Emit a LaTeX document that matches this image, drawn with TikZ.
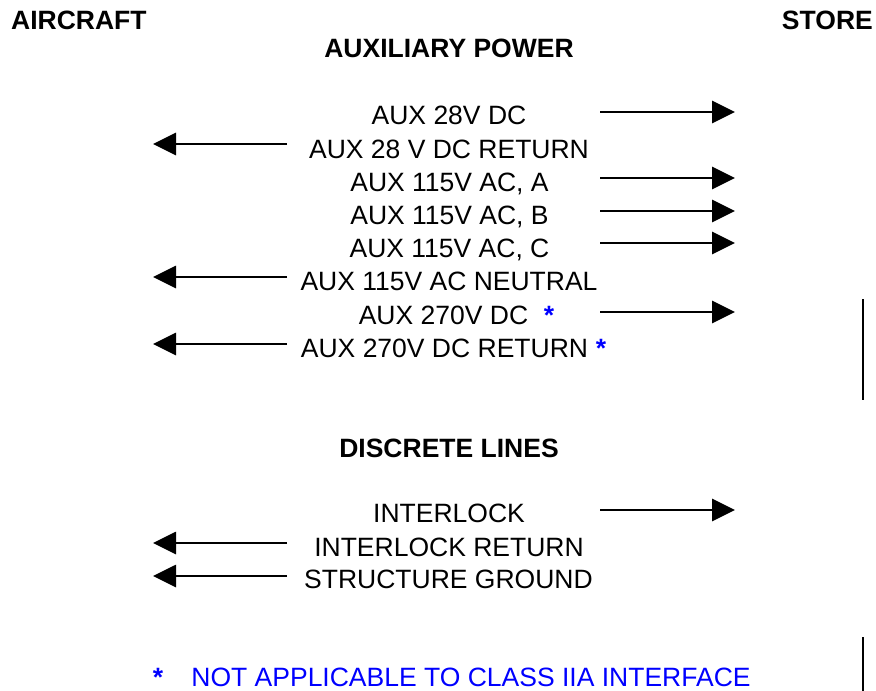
\documentclass[tikz,border=0pt]{standalone}
\usepackage{fontspec}
\setmainfont{Liberation Sans}
\usetikzlibrary{arrows.meta}
\definecolor{noteblue}{RGB}{0,0,255}

\begin{document}
\begin{tikzpicture}[x=1pt,y=-1pt,
  lbl/.style={anchor=base,inner sep=0pt,font=\fontsize{26.5}{30}\selectfont},
  hdr/.style={lbl,font=\fontsize{26.5}{30}\selectfont\bfseries},
  star/.style={lbl,text=noteblue,font=\fontsize{26.5}{30}\selectfont\bfseries},
  sig/.style={line width=2.8pt,-{Triangle[length=23pt,width=22pt]}}]
\useasboundingbox (0,0) rectangle (876,691);
% headers
\node[hdr,anchor=base west] (acft) at (11,29.5) {AIRCRAFT};
\node[hdr,anchor=base east] (store) at (873,29.5) {STORE};
\node[hdr] (auxhdr) at (449,57.5) {AUXILIARY POWER};
\node[hdr] (dischdr) at (449,457.5) {DISCRETE LINES};
% auxiliary power lines
\node[lbl] (aux28) at (449,124.5) {AUX 28V DC};
\node[lbl] (aux28r) at (449,158.5) {AUX 28 V DC RETURN};
\node[lbl] (auxa) at (449.5,191.5) {AUX 115V AC, A};
\node[lbl] (auxb) at (449.5,224.5) {AUX 115V AC, B};
\node[lbl] (auxc) at (449.5,257.5) {AUX 115V AC, C};
\node[lbl] (auxn) at (449,290.5) {AUX 115V AC NEUTRAL};
\node[lbl] (aux270) at (443.5,324.5) {AUX 270V DC};
\node[star] (s270) at (549,324.5) {*};
\node[lbl] (aux270r) at (444.5,357.5) {AUX 270V DC RETURN};
\node[star] (s270r) at (601,357.5) {*};
% discrete lines
\node[lbl] (ilk) at (449,522.5) {INTERLOCK};
\node[lbl] (ilkr) at (449,556.5) {INTERLOCK RETURN};
\node[lbl] (gnd) at (448.5,588.5) {STRUCTURE GROUND};
% note
\node[star] (snote) at (158,686.5) {*};
\node[lbl,text=noteblue] (note) at (471,686.5) {NOT APPLICABLE TO CLASS IIA INTERFACE};
% aircraft to store
\foreach \n/\y in {a/112,b/178,c/211,d/243,e/312,f/510}{
  \coordinate (out\n) at (600,\y);
  \coordinate (tip\n) at (735,\y);
  \draw[sig] (out\n) -- (tip\n);
}
% store to aircraft
\foreach \n/\y in {a/144,b/277,c/344,d/543,e/576}{
  \coordinate (ret\n) at (287,\y);
  \coordinate (end\n) at (153,\y);
  \draw[sig] (ret\n) -- (end\n);
}
% bars at the right
\coordinate (bar1t) at (863,299);
\coordinate (bar1b) at (863,400);
\coordinate (bar2t) at (863,637);
\coordinate (bar2b) at (863,691);
\draw[line width=1.6pt] (bar1t) -- (bar1b);
\draw[line width=1.6pt] (bar2t) -- (bar2b);
\end{tikzpicture}
\end{document}
